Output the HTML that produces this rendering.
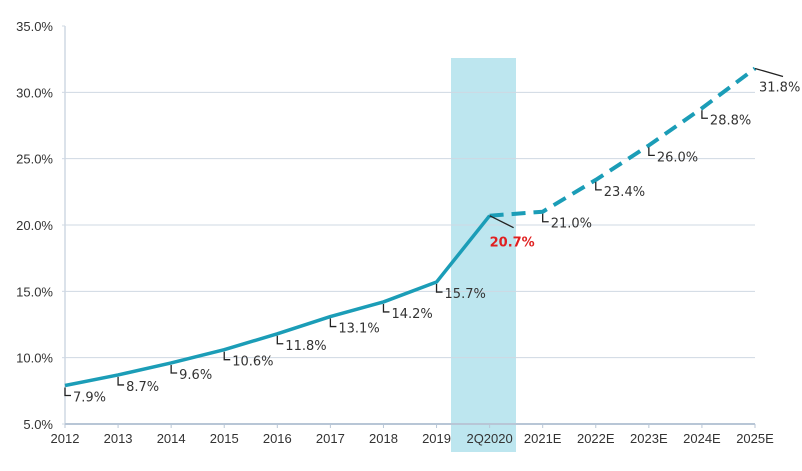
<!DOCTYPE html>
<html><head><meta charset="utf-8"><style>
body{margin:0;background:#fff;}
svg{display:block;font-family:"DejaVu Sans","Liberation Sans",sans-serif;}
</style></head><body>
<svg id="chart" width="802" height="471" xmlns="http://www.w3.org/2000/svg"></svg>
<script>
const categories=["2012","2013","2014","2015","2016","2017","2018","2019","2Q2020","2021E","2022E","2023E","2024E","2025E"];
const values=[7.9,8.7,9.6,10.6,11.8,13.1,14.2,15.7,20.7,21.0,23.4,26.0,28.8,31.8];
const yTicks=[5,10,15,20,25,30,35];
const actualCount=9;
const NS="http://www.w3.org/2000/svg";
const svg=document.getElementById('chart');
const X0=65,X1=755,Y0=424,Y1=26,YMIN=5,YMAX=35;
const x=i=>X0+i*(X1-X0)/(categories.length-1);
const y=v=>Y0-(v-YMIN)/(YMAX-YMIN)*(Y0-Y1);
function mk(tag,attrs,parent){const e=document.createElementNS(NS,tag);for(const k in attrs)e.setAttribute(k,attrs[k]);(parent||svg).appendChild(e);return e;}
const band=mk('rect',{x:451,y:58,width:65,height:394,fill:'#bde6ef'});


yTicks.forEach(t=>{
  if(t!==YMIN&&t!==YMAX){const g=mk('line',{x1:X0,x2:X1,y1:y(t),y2:y(t),stroke:'#cfd8e3','stroke-width':1});
  
  }
  mk('line',{x1:X0-3,x2:X0,y1:y(t),y2:y(t),stroke:'#cfd8e3'});
  const tx=mk('text',{x:53,y:y(t)+5,'text-anchor':'end','font-size':13,fill:'#333','font-family':'Liberation Sans, sans-serif'});
  tx.textContent=t.toFixed(1)+'%';
  
  
});
const ya=mk('line',{x1:X0,x2:X0,y1:Y1,y2:Y0,stroke:'#cfd8e3','stroke-width':1.5});


const xa=mk('line',{x1:X0,x2:X1,y1:Y0,y2:Y0,stroke:'#b8c6d6','stroke-width':2});


categories.forEach((c,i)=>{
  mk('line',{x1:x(i),x2:x(i),y1:Y0,y2:Y0+4,stroke:'#b8c6d6'});
  const t=mk('text',{x:x(i),y:443,'text-anchor':'middle','font-size':13,fill:'#333','font-family':'Liberation Sans, sans-serif'});
  t.textContent=c;
  
  
});
const pts=values.map((v,i)=>x(i)+','+y(v));
const solid=mk('polyline',{points:pts.slice(0,actualCount).join(' '),fill:'none',stroke:'#1b9db7','stroke-width':3.5,'stroke-linejoin':'round'});


const dash=mk('polyline',{points:pts.slice(actualCount-1).join(' '),fill:'none',stroke:'#1b9db7','stroke-width':4,'stroke-dasharray':'14 8'});


values.forEach((v,i)=>{
  const px=x(i),py=y(v);
  let lx,ly,path,color='#333',weight='normal';
  if(i===actualCount-1){path=`M${px},${py} L${px+24},${py+12}`;lx=px;ly=py+31;color='#e02020';weight='bold';}
  else if(i===values.length-1){path=`M${px},${py} L${px+28},${py+8}`;lx=px+4;ly=py+23;}
  else{path=`M${px},${py+2} L${px},${py+10} L${px+6},${py+10}`;lx=px+8;ly=py+16;}
  const l=mk('path',{d:path,fill:'none',stroke:'#222','stroke-width':1.3});
  
  
  const t=mk('text',{x:lx,y:ly,'font-size':13,fill:color,'font-weight':weight});
  t.textContent=v.toFixed(1)+'%';
  
  
});
</script>
</body></html>
